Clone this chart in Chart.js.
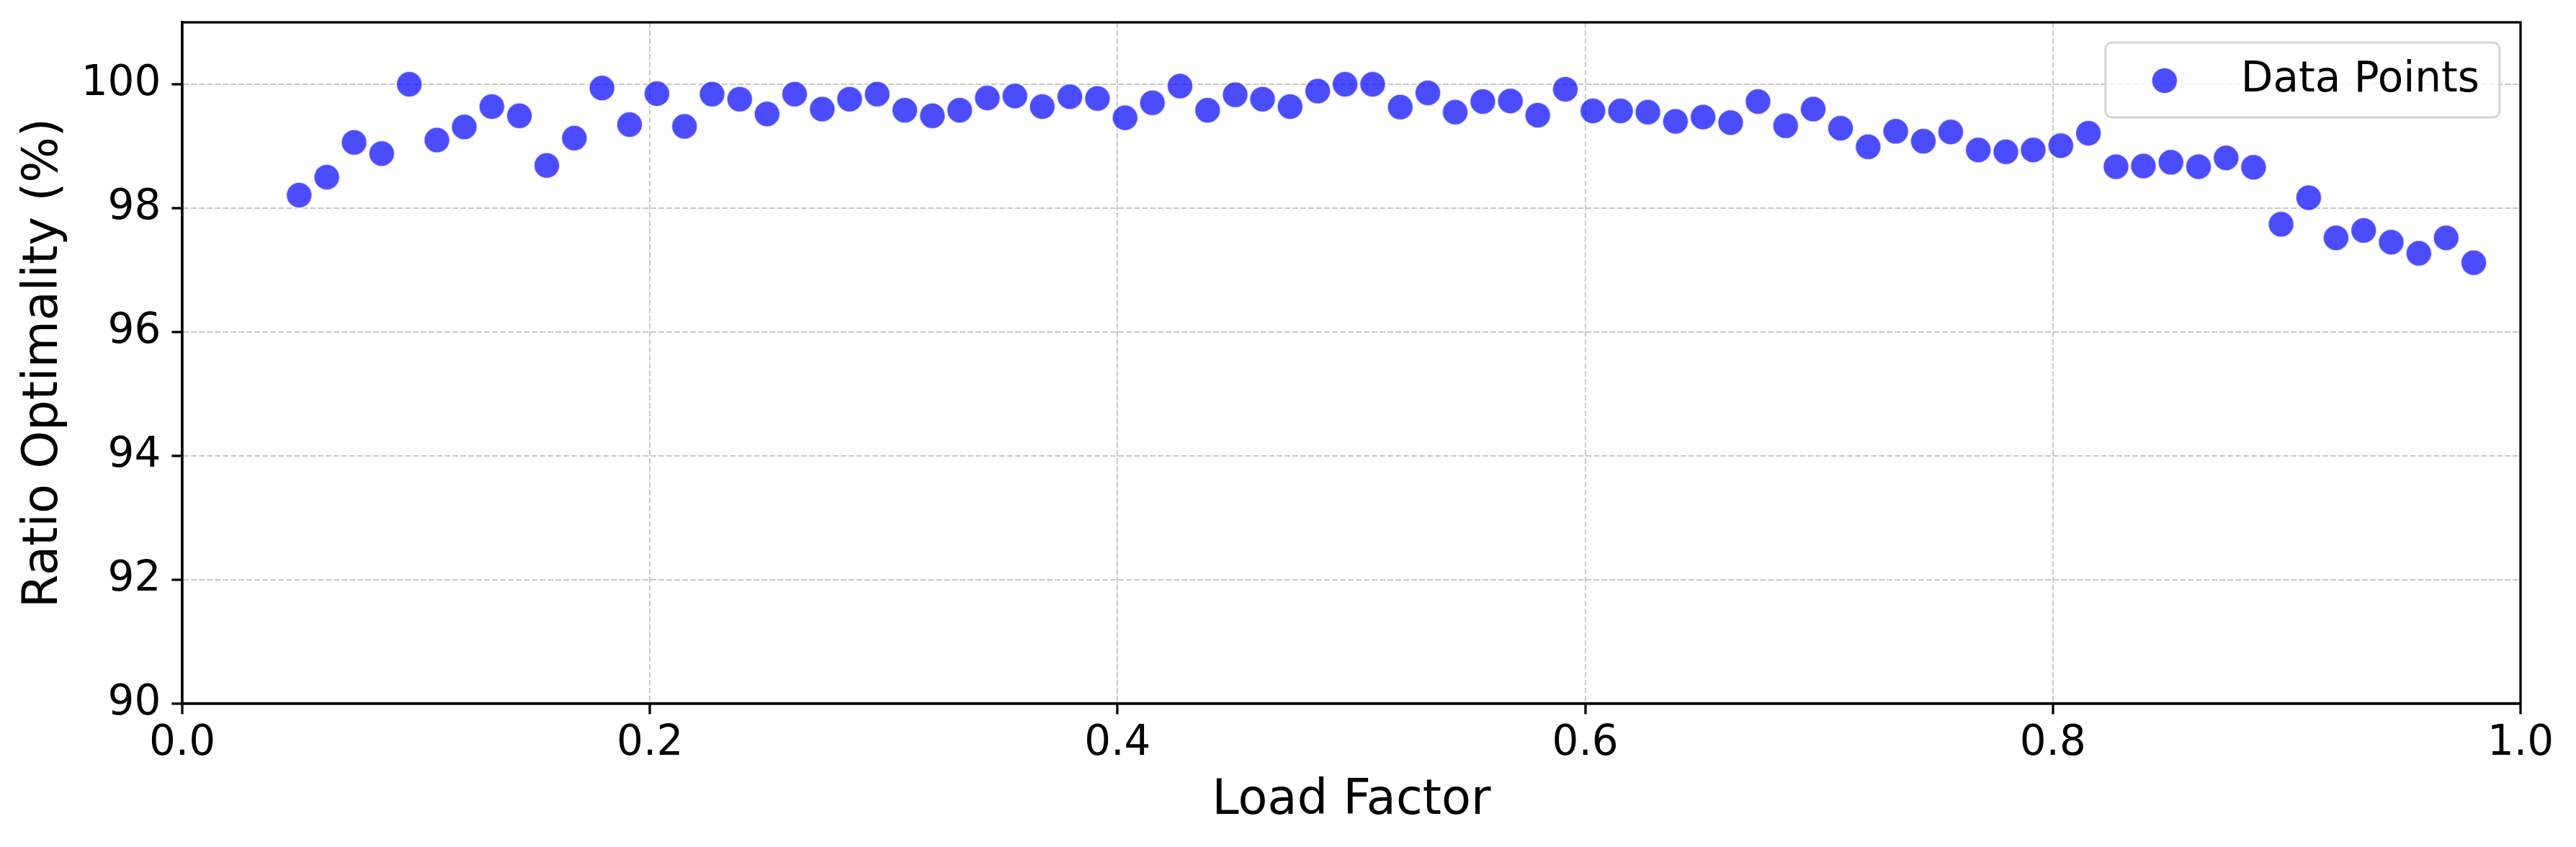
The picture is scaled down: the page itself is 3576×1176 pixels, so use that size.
<!DOCTYPE html>
<html>
<head>
<meta charset="utf-8">
<title>Ratio Optimality vs Load Factor</title>
<script src="https://cdn.jsdelivr.net/npm/chart.js@4.4.1/dist/chart.umd.min.js"></script>
<style>
  html, body { margin: 0; padding: 0; background: #ffffff; overflow: hidden; }
  #wrap { width: 3576px; height: 1176px; }
</style>
</head>
<body>
<div id="wrap"><canvas id="ratioChart" width="3576" height="1176"></canvas></div>
<script>
const loadFactor = [
  0.0500, 0.0618, 0.0735, 0.0853, 0.0971, 0.1089, 0.1206, 0.1324, 0.1442, 0.1559,
  0.1677, 0.1795, 0.1913, 0.2030, 0.2148, 0.2266, 0.2384, 0.2501, 0.2619, 0.2737,
  0.2854, 0.2972, 0.3090, 0.3208, 0.3325, 0.3443, 0.3561, 0.3678, 0.3796, 0.3914,
  0.4032, 0.4149, 0.4267, 0.4385, 0.4503, 0.4620, 0.4738, 0.4856, 0.4973, 0.5091,
  0.5209, 0.5327, 0.5444, 0.5562, 0.5680, 0.5797, 0.5915, 0.6033, 0.6151, 0.6268,
  0.6386, 0.6504, 0.6622, 0.6739, 0.6857, 0.6975, 0.7092, 0.7210, 0.7328, 0.7446,
  0.7563, 0.7681, 0.7799, 0.7916, 0.8034, 0.8152, 0.8270, 0.8387, 0.8505, 0.8623,
  0.8741, 0.8858, 0.8976, 0.9094, 0.9211, 0.9329, 0.9447, 0.9565, 0.9682, 0.9800,
];
const ratioOptimality = [
  98.21, 98.50, 99.06, 98.88, 100.00, 99.10, 99.31, 99.64, 99.49, 98.69,
  99.13, 99.94, 99.35, 99.85, 99.32, 99.84, 99.76, 99.52, 99.84, 99.60,
  99.76, 99.84, 99.58, 99.49, 99.58, 99.78, 99.81, 99.64, 99.80, 99.77,
  99.46, 99.70, 99.97, 99.58, 99.83, 99.76, 99.64, 99.89, 100.00, 100.00,
  99.63, 99.86, 99.55, 99.72, 99.73, 99.50, 99.92, 99.57, 99.57, 99.55,
  99.40, 99.47, 99.38, 99.72, 99.33, 99.60, 99.29, 98.99, 99.24, 99.08,
  99.23, 98.94, 98.91, 98.94, 99.01, 99.21, 98.67, 98.68, 98.74, 98.67,
  98.81, 98.66, 97.74, 98.17, 97.52, 97.64, 97.45, 97.27, 97.52, 97.12,
];
const xTicks = [0.0, 0.2, 0.4, 0.6, 0.8, 1.0];
const yTicks = [90, 92, 94, 96, 98, 100];
const seriesLabel = "Data Points";

const FONT = "'DejaVu Sans', 'Liberation Sans', sans-serif";
const POINT_FILL = "rgba(0, 0, 255, 0.7)";
const POINT_EDGE = "rgba(255, 255, 255, 0.75)";

// matplotlib style box: full frame around the plot area + legend in the top right
const framePlugin = {
  id: "frame",
  afterDraw(chart) {
    const { ctx, chartArea } = chart;
    ctx.save();
    ctx.strokeStyle = "#000000";
    ctx.lineWidth = 3.3;
    ctx.strokeRect(
      chartArea.left,
      chartArea.top,
      chartArea.right - chartArea.left,
      chartArea.bottom - chartArea.top
    );
    ctx.restore();
  },
};

const legendPlugin = {
  id: "insideLegend",
  afterDraw(chart) {
    const { ctx, chartArea } = chart;
    ctx.save();
    ctx.font = `58px ${FONT}`;
    const textWidth = ctx.measureText(seriesLabel).width;
    const right = chartArea.right - 29;
    const top = chartArea.top + 28;
    const width = 190 + textWidth + 26;
    const height = 104;
    const left = right - width;

    ctx.beginPath();
    ctx.roundRect(left, top, width, height, 9);
    ctx.fillStyle = "rgba(255, 255, 255, 0.8)";
    ctx.fill();
    ctx.strokeStyle = "#d6d6d6";
    ctx.lineWidth = 3;
    ctx.stroke();

    ctx.beginPath();
    ctx.arc(left + 82, top + 53, 18, 0, Math.PI * 2);
    ctx.fillStyle = POINT_FILL;
    ctx.fill();
    ctx.strokeStyle = POINT_EDGE;
    ctx.lineWidth = 2;
    ctx.stroke();

    ctx.fillStyle = "#000000";
    ctx.textAlign = "left";
    ctx.textBaseline = "alphabetic";
    ctx.fillText(seriesLabel, left + 188, top + 68);
    ctx.restore();
  },
};

function displayRatioChart() {
  const ctx = document.getElementById("ratioChart").getContext("2d");
  new Chart(ctx, {
    type: "scatter",
    data: {
      datasets: [
        {
          label: seriesLabel,
          data: loadFactor.map((x, i) => ({ x: x, y: ratioOptimality[i] })),
          backgroundColor: POINT_FILL,
          borderColor: POINT_EDGE,
          borderWidth: 2,
          pointRadius: 18,
          pointHoverRadius: 18,
        },
      ],
    },
    options: {
      responsive: false,
      animation: false,
      devicePixelRatio: 1,
      layout: {
        padding: { top: 31, right: 77, left: 0, bottom: 0 },
      },
      plugins: {
        legend: { display: false },
        tooltip: { enabled: false },
      },
      scales: {
        x: {
          type: "linear",
          min: 0,
          max: 1,
          afterFit(scale) {
            scale.height = 199;
            scale.paddingLeft = 0;
            scale.paddingRight = 0;
          },
          afterBuildTicks(scale) {
            scale.ticks = xTicks.map((v) => ({ value: v }));
          },
          ticks: {
            color: "#000000",
            padding: 12,
            maxRotation: 0,
            font: { family: FONT, size: 58, lineHeight: 1 },
            callback: (v) => Number(v).toFixed(1),
          },
          grid: {
            color: "rgba(176, 176, 176, 0.7)",
            lineWidth: 2,
            tickColor: "#000000",
            tickWidth: 3.3,
            tickLength: 14.6,
          },
          border: {
            display: true,
            color: "#000000",
            width: 3.3,
            dash: [7.7, 3.3],
          },
          title: {
            display: true,
            text: "Load Factor",
            color: "#000000",
            font: { family: FONT, size: 67 },
            padding: { top: 0, bottom: 23 },
          },
        },
        y: {
          type: "linear",
          min: 90,
          max: 101,
          afterFit(scale) {
            scale.width = 253;
            scale.paddingTop = 0;
            scale.paddingBottom = 0;
          },
          afterBuildTicks(scale) {
            scale.ticks = yTicks.map((v) => ({ value: v }));
          },
          ticks: {
            color: "#000000",
            padding: 15,
            font: { family: FONT, size: 58, lineHeight: 1 },
            callback: (v) => String(v),
          },
          grid: {
            color: "rgba(176, 176, 176, 0.7)",
            lineWidth: 2,
            tickColor: "#000000",
            tickWidth: 3.3,
            tickLength: 14.6,
          },
          border: {
            display: true,
            color: "#000000",
            width: 3.3,
            dash: [7.7, 3.3],
          },
          title: {
            display: true,
            text: "Ratio Optimality (%)",
            color: "#000000",
            font: { family: FONT, size: 67 },
            padding: { top: 21, bottom: 0 },
          },
        },
      },
    },
    plugins: [framePlugin, legendPlugin],
  });
}

document.addEventListener("DOMContentLoaded", displayRatioChart);
</script>
</body>
</html>
